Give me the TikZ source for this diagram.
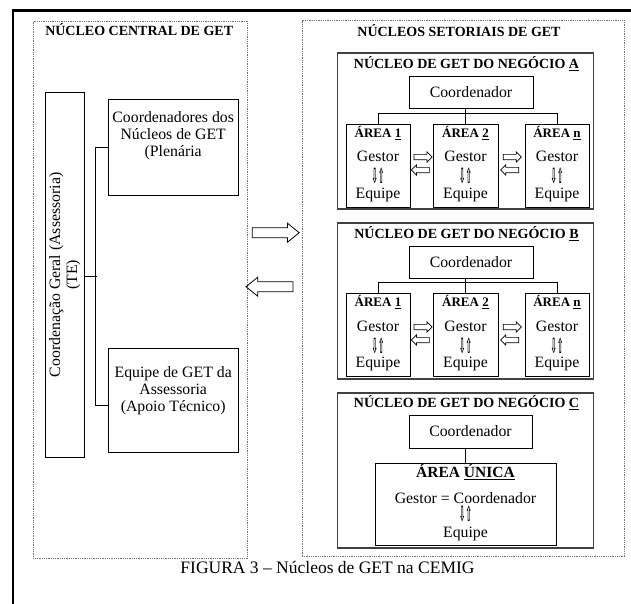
\documentclass[tikz,border=0pt]{standalone}
\usepackage{fontspec}
\usepackage{graphicx}
\setmainfont{Liberation Serif}
\newfontfamily\arrowfont{DejaVu Sans}
\usetikzlibrary{shapes.arrows}

\newcommand{\gestup}{{\arrowfont\bfseries\fontsize{21}{16}\selectfont\scalebox{0.36}[1]{⇩⇧}}}
\newcommand{\areatit}[1]{{\fontsize{13}{15}\selectfont\bfseries ÁREA \underline{#1}}}

\begin{document}
\begin{tikzpicture}[x=1pt,y=-1pt,
  every node/.style={font=\fontsize{15.8}{17}\selectfont, inner sep=0pt},
  dotbox/.style={draw=black!55, densely dotted, line width=0.8pt},
  negbox/.style={draw=black!75, line width=1.4pt},
  plainbox/.style={draw, line width=0.9pt},
  areabox/.style={plainbox, align=center, minimum height=83, text depth=6.5pt},
  bigtitle/.style={font=\fontsize{14}{16}\selectfont\bfseries, anchor=base},
  bigarrow/.style={draw, line width=0.8pt, single arrow, single arrow head extend=4.5pt,
     single arrow tip angle=78, inner ysep=4.6pt, minimum height=47},
  smallarrow/.style={draw, line width=0.7pt, single arrow, single arrow head extend=2.4pt,
     inner ysep=2.3pt, minimum height=18}
]
\useasboundingbox (0,0) rectangle (631,603);

% FRAME
\draw[line width=2.2pt] (13,10.5) rectangle (650,650);

% NUCLEO CENTRAL
\node[dotbox, minimum width=214.5, minimum height=537] (central) at (140.5,289.5) {};
\node[bigtitle] (titcentral) at (139.2,35) {NÚCLEO CENTRAL DE GET};

\node[plainbox, rotate=90, align=center, minimum width=365.5, minimum height=38.5]
  (geral) at (64.8,274.8) {Coordenação Geral (Assessoria)\\(TE)};

\node[plainbox, minimum width=129.5, minimum height=96] (coordn) at (173.2,147) {};
\node[anchor=north, align=center] (coordntxt) at (173.2,111.3)
  {Coordenadores dos\\Núcleos de GET\\(Plenária};

\node[plainbox, minimum width=129.5, minimum height=104] (equipe) at (173.2,400) {};
\node[anchor=north, align=center] (equipetxt) at (173.2,366.3)
  {Equipe de GET da\\Assessoria\\(Apoio Técnico)};

\draw[line width=0.9pt] (coordn.west) -- ++(-12.8,0) |- ([yshift=-5pt]equipe.west);
\draw[line width=0.9pt] ([yshift=-1.2pt]geral.south) -- ++(12,0);

% ARROWS BETWEEN THE TWO SIDES
\node[bigarrow] (toset) at (272.6,232.7) {};
\node[bigarrow, shape border rotate=180] (tocen) at (272.6,286.7) {};

% NUCLEOS SETORIAIS
\node[dotbox, minimum width=322.5, minimum height=536] (setorial) at (463.3,288.8) {};
\node[bigtitle] (titsetorial) at (459,36) {NÚCLEOS SETORIAIS DE GET};

% negocio A
\node[negbox, minimum width=256, minimum height=156] (negA) at (465.5,131) {};
\node[bigtitle] (titA) at (466.5,68.3) {NÚCLEO DE GET DO NEGÓCIO \underline{A}};
\node[plainbox, minimum width=124, minimum height=32] (coordA) at (471,92) {Coordenador};
\node[areabox, minimum width=64] (a1A) at (378,165.5)
  {\areatit{1}\\[7.4pt]Gestor\\[5pt]\gestup\\[-2.5pt]Equipe};
\node[areabox, minimum width=65] (a2A) at (465.5,165.5)
  {\areatit{2}\\[7.4pt]Gestor\\[5pt]\gestup\\[-2.5pt]Equipe};
\node[areabox, minimum width=64] (anA) at (557,165.5)
  {\areatit{n}\\[7.4pt]Gestor\\[5pt]\gestup\\[-2.5pt]Equipe};
\node[smallarrow] (r1A) at (421.7,157) {};
\node[smallarrow, shape border rotate=180] (l1A) at (421.7,170) {};
\node[smallarrow] (r2A) at (511,157) {};
\node[smallarrow, shape border rotate=180] (l2A) at (511,170) {};
\draw[line width=0.9pt] (a1A.north) -- ++(0,-10.6) -| (anA.north);
\draw[line width=0.9pt] (a2A.north) -- (a2A.north |- coordA.south);

% negocio B
\node[negbox, minimum width=256, minimum height=156] (negB) at (465.5,301) {};
\node[bigtitle] (titB) at (466.5,238.3) {NÚCLEO DE GET DO NEGÓCIO \underline{B}};
\node[plainbox, minimum width=124, minimum height=32] (coordB) at (471,262) {Coordenador};
\node[areabox, minimum width=64] (a1B) at (378,335)
  {\areatit{1}\\[7.4pt]Gestor\\[5pt]\gestup\\[-2.5pt]Equipe};
\node[areabox, minimum width=65] (a2B) at (465.5,335)
  {\areatit{2}\\[7.4pt]Gestor\\[5pt]\gestup\\[-2.5pt]Equipe};
\node[areabox, minimum width=64] (anB) at (557,335)
  {\areatit{n}\\[7.4pt]Gestor\\[5pt]\gestup\\[-2.5pt]Equipe};
\node[smallarrow] (r1B) at (421.7,327) {};
\node[smallarrow, shape border rotate=180] (l1B) at (421.7,340) {};
\node[smallarrow] (r2B) at (511,327) {};
\node[smallarrow, shape border rotate=180] (l2B) at (511,340) {};
\draw[line width=0.9pt] (a1B.north) -- ++(0,-10.6) -| (anB.north);
\draw[line width=0.9pt] (a2B.north) -- (a2B.north |- coordB.south);

% negocio C
\node[negbox, minimum width=256, minimum height=155] (negC) at (465.5,470.5) {};
\node[bigtitle] (titC) at (466.5,407.7) {NÚCLEO DE GET DO NEGÓCIO \underline{C}};
\node[plainbox, minimum width=123, minimum height=33] (coordC) at (470.5,431.5) {Coordenador};
\node[plainbox, align=center, minimum width=181, minimum height=82, text depth=5.5pt]
  (unica) at (465.5,504)
  {{\fontsize{15.5}{17}\selectfont\bfseries ÁREA \underline{ÚNICA}}\\[8.7pt]Gestor = Coordenador\\[0.7pt]\gestup\\[-0.4pt]Equipe};
\draw[line width=0.9pt] (unica.north) -- (unica.north |- coordC.south);

% CAPTION
\node[anchor=base, font=\fontsize{17.5}{19}\selectfont] (caption) at (327.5,573.7)
  {FIGURA 3 – Núcleos de GET na CEMIG};

\end{tikzpicture}
\end{document}
